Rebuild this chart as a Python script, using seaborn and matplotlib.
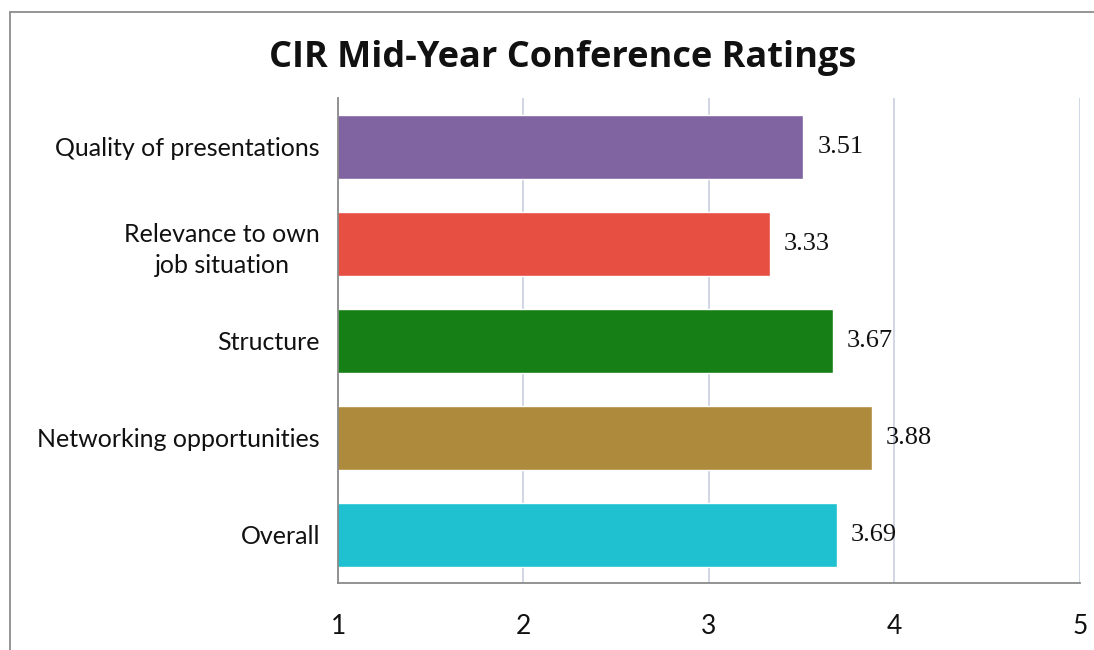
import matplotlib
matplotlib.use("Agg")
import matplotlib.pyplot as plt
from matplotlib.patches import Rectangle
import seaborn as sns
import pandas as pd

# Survey ratings (1-5 scale)
categories = [
    "Quality of presentations",
    "Relevance to own\njob situation",
    "Structure",
    "Networking opportunities",
    "Overall",
]
ratings = [3.51, 3.33, 3.67, 3.88, 3.69]
bar_colors = ["#8064A2", "#E64F42", "#168016", "#AD8A3C", "#1FC0D0"]
x_ticks = [1, 2, 3, 4, 5]

df = pd.DataFrame({"category": categories, "rating": ratings})

sns.set_theme(style="white")
plt.rcParams["font.family"] = ["Lato", "DejaVu Sans"]

fig = plt.figure(figsize=(10.94, 6.5), dpi=100)
ax = fig.add_axes([0.309, 0.103, 0.678, 0.746])

sns.barplot(
    data=df, y="category", x="rating", hue="category",
    palette=bar_colors, orient="h", width=0.66, legend=False,
    saturation=1, ax=ax,
)

ax.set_xlim(x_ticks[0], x_ticks[-1])
ax.set_xticks(x_ticks)
ax.set_xticklabels([str(t) for t in x_ticks], fontsize=19, color="#111111")
ax.tick_params(axis="x", length=0, pad=22)
ax.tick_params(axis="y", length=0, pad=13, labelsize=18, colors="#111111")
for lbl in ax.get_yticklabels():
    lbl.set_multialignment("center")
    lbl.set_linespacing(1.45)
ax.set_xlabel("")
ax.set_ylabel("")

ax.xaxis.grid(True, color="#C3CBDD", linewidth=1.1)
ax.yaxis.grid(False)
ax.set_axisbelow(True)
for side in ["top", "right"]:
    ax.spines[side].set_visible(False)
for side in ["left", "bottom"]:
    ax.spines[side].set_color("#8A8A8A")
    ax.spines[side].set_linewidth(1.3)

# value labels at the bar ends
for i, v in enumerate(ratings):
    ax.text(v + 0.075, i, f"{v:.2f}", va="center", ha="left",
            fontsize=19, family="Liberation Serif", color="#111111")

fig.text(0.514, 0.911, "CIR Mid-Year Conference Ratings", ha="center",
         va="center", fontsize=26, fontweight="bold", color="#111111",
         family=["Open Sans", "DejaVu Sans"])

# outer chart border
fig.patches.append(Rectangle((10 / 1094, -0.05), 1.2, 1 - 12 / 650 + 0.05,
                             transform=fig.transFigure, fill=False,
                             edgecolor="#8C8C8C", linewidth=1.3))

fig.savefig("out.png", dpi=100, facecolor="white")
